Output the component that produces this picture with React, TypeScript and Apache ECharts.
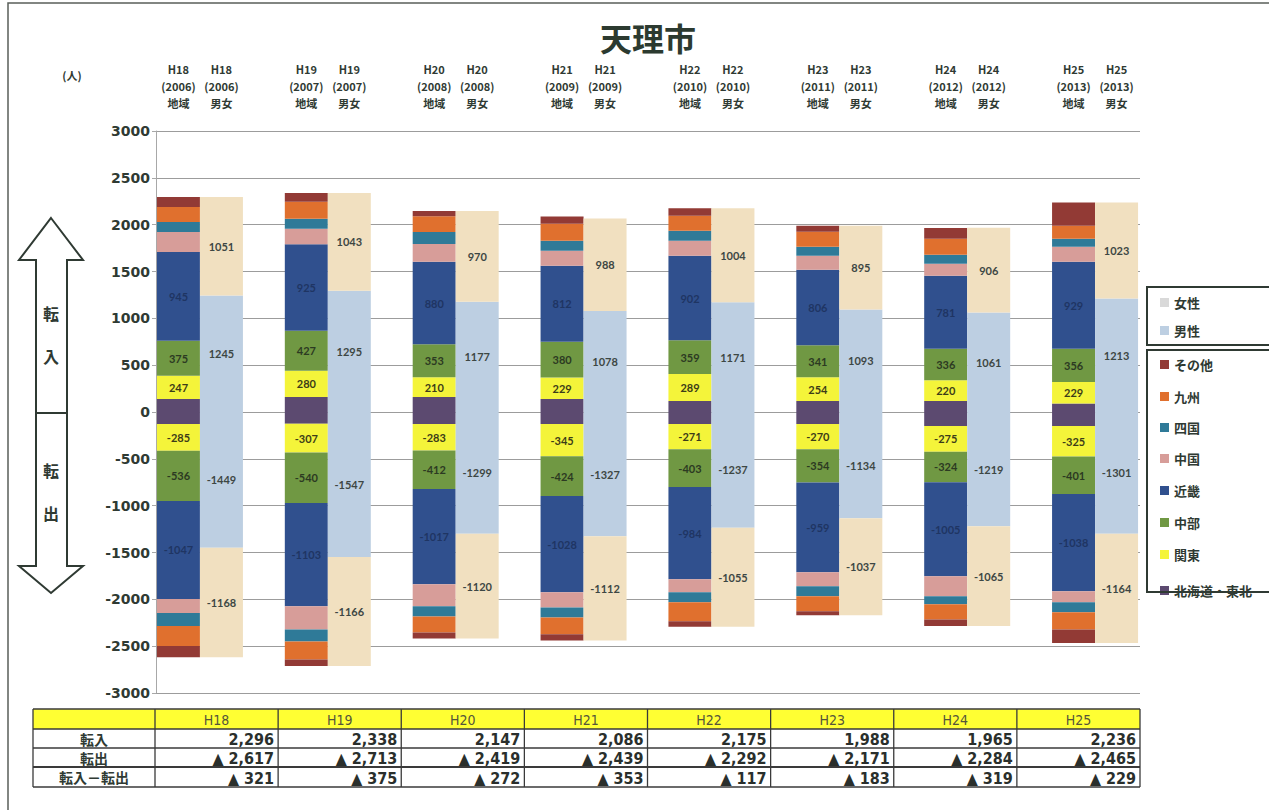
import React, { useEffect, useRef } from 'react';
import * as echarts from 'echarts';

// ---------- data ----------
const years = ['H18', 'H19', 'H20', 'H21', 'H22', 'H23', 'H24', 'H25'];
const westernYears = ['2006', '2007', '2008', '2009', '2010', '2011', '2012', '2013'];
const yTicks = [-3000, 3000, 500];

const totalIn = [2296, 2338, 2147, 2086, 2175, 1988, 1965, 2236];
const totalOut = [2617, 2713, 2419, 2439, 2292, 2171, 2284, 2465];

// regional (転入 positive, 転出 negative)
const htIn = [140, 160, 160, 140, 118, 118, 118, 90];
const kantoIn = [247, 280, 210, 229, 289, 254, 220, 229];
const chubuIn = [375, 427, 353, 380, 359, 341, 336, 356];
const kinkiIn = [945, 925, 880, 812, 902, 806, 781, 929];
const chugokuIn = [214, 165, 190, 161, 161, 149, 128, 161];
const shikokuIn = [107, 107, 128, 107, 107, 97, 96, 85];
const kyushuIn = [161, 180, 170, 182, 160, 160, 171, 139];
const otherIn = [107, 94, 56, 75, 79, 63, 115, 247];

const htOut = [-128, -125, -128, -128, -128, -128, -150, -150];
const kantoOut = [-285, -307, -283, -345, -271, -270, -275, -325];
const chubuOut = [-536, -540, -412, -424, -403, -354, -324, -401];
const kinkiOut = [-1047, -1103, -1017, -1028, -984, -959, -1005, -1038];
const chugokuOut = [-150, -246, -235, -161, -139, -150, -214, -118];
const shikokuOut = [-139, -128, -107, -107, -107, -107, -85, -107];
const kyushuOut = [-214, -193, -171, -181, -203, -160, -161, -182];
const otherOut = [-118, -71, -66, -65, -57, -43, -70, -144];

// gender
const maleIn = [1245, 1295, 1177, 1078, 1171, 1093, 1061, 1213];
const femaleIn = [1051, 1043, 970, 988, 1004, 895, 906, 1023];
const maleOut = [-1449, -1547, -1299, -1327, -1237, -1134, -1219, -1301];
const femaleOut = [-1168, -1166, -1120, -1112, -1055, -1037, -1065, -1164];

// ---------- styles ----------
const INK = '#2f3a33';
const C = {
  ht: '#5c4a70',
  kanto: '#f4f43a',
  chubu: '#709843',
  kinki: '#30508e',
  chugoku: '#d79d99',
  shikoku: '#2f7a98',
  kyushu: '#e0702e',
  other: '#923a35',
  male: '#bdcfe2',
  female: '#f1e0c0',
};
const CJK = "'Noto Sans CJK JP', sans-serif";
const NUM = "'DejaVu Sans', 'Noto Sans CJK JP', sans-serif";
const NARROW = "'Liberation Sans Narrow', 'DejaVu Sans Condensed', sans-serif";

type Region = { name: string; inV: number[]; outV: number[]; color: string; labelColor?: string };
const regions: Region[] = [
  { name: '北海道・東北', inV: htIn, outV: htOut, color: C.ht },
  { name: '関東', inV: kantoIn, outV: kantoOut, color: C.kanto, labelColor: '#3c3c18' },
  { name: '中部', inV: chubuIn, outV: chubuOut, color: C.chubu, labelColor: '#2c3a22' },
  { name: '近畿', inV: kinkiIn, outV: kinkiOut, color: C.kinki, labelColor: '#1f3563' },
  { name: '中国', inV: chugokuIn, outV: chugokuOut, color: C.chugoku },
  { name: '四国', inV: shikokuIn, outV: shikokuOut, color: C.shikoku },
  { name: '九州', inV: kyushuIn, outV: kyushuOut, color: C.kyushu },
  { name: 'その他', inV: otherIn, outV: otherOut, color: C.other },
];

const fmt = (n: number) => String(Math.abs(n)).replace(/\B(?=(\d{3})+(?!\d))/g, ',');

function txt(x: number, y: number, text: string, opts: any = {}) {
  const align = opts.align || 'center';
  const v = opts.v || 'middle';
  return {
    type: 'text',
    x,
    y,
    silent: true,
    z: opts.z || 10,
    style: {
      text,
      fill: opts.fill || INK,
      fontSize: opts.size || 12,
      fontWeight: opts.weight || 'bold',
      fontFamily: opts.family || CJK,
      align,
      verticalAlign: v,
      textAlign: align,
      textVerticalAlign: v,
    },
  };
}

function buildGraphic() {
  const g: any[] = [];
  // outer border
  g.push({ type: 'rect', silent: true, shape: { x: 8, y: 3, width: 1400, height: 1000 }, style: { fill: 'none', stroke: '#5a5f5a', lineWidth: 1.5 } });
  // title & unit
  g.push(txt(648, 37, '天理市', { size: 32, fill: '#2c3a30' }));
  g.push(txt(72, 75, '(人)', { size: 11 }));
  // arrow
  g.push({
    type: 'polygon', silent: true,
    shape: { points: [[51, 218], [83, 260], [67, 260], [67, 566], [83, 566], [51, 593], [19, 566], [36, 566], [36, 260], [19, 260]] },
    style: { fill: '#fff', stroke: INK, lineWidth: 2 },
  });
  g.push({ type: 'line', silent: true, shape: { x1: 36, y1: 413, x2: 67, y2: 413 }, style: { stroke: INK, lineWidth: 2 } });
  g.push(txt(51, 313, '転', { size: 16 }));
  g.push(txt(51, 356, '入', { size: 16 }));
  g.push(txt(51, 470, '転', { size: 16 }));
  g.push(txt(51, 513, '出', { size: 16 }));

  // legend boxes
  g.push({ type: 'rect', silent: true, shape: { x: 1147, y: 287, width: 140, height: 58 }, style: { fill: '#fff', stroke: INK, lineWidth: 2 } });
  g.push({ type: 'rect', silent: true, shape: { x: 1147, y: 350, width: 140, height: 242 }, style: { fill: '#fff', stroke: INK, lineWidth: 2 } });
  const lg1 = [
    { name: '女性', color: '#d9d9d9', y: 302 },
    { name: '男性', color: C.male, y: 330 },
  ];
  lg1.forEach((it) => {
    g.push({ type: 'rect', silent: true, z: 11, shape: { x: 1160, y: it.y - 4, width: 9, height: 9 }, style: { fill: it.color } });
    g.push(txt(1174, it.y, it.name, { size: 13, align: 'left', z: 11 }));
  });
  const lgYs = [364, 396, 427, 458, 490, 522, 554, 590];
  const rev = regions.slice().reverse();
  rev.forEach((r, i) => {
    const y = lgYs[i];
    g.push({ type: 'rect', silent: true, z: 11, shape: { x: 1160, y: y - 4, width: 9, height: 9 }, style: { fill: r.color } });
    g.push(txt(1174, y, r.name, { size: 13, align: 'left', z: 11 }));
  });
  g.push({ type: 'line', silent: true, z: 12, shape: { x1: 1147, y1: 592, x2: 1290, y2: 592 }, style: { stroke: INK, lineWidth: 2 } });

  // table
  const tL = 33, tC = 155, tR = 1140;
  const colW = (tR - tC) / years.length;
  const rowY = [709, 729, 748, 767, 787];
  g.push({ type: 'rect', silent: true, shape: { x: tL, y: rowY[0], width: tR - tL, height: rowY[1] - rowY[0] }, style: { fill: '#ffff33' } });
  rowY.forEach((y, i) => {
    g.push({ type: 'line', silent: true, z: 11, shape: { x1: tL, y1: y, x2: tR, y2: y }, style: { stroke: '#3a3a3a', lineWidth: i === 3 ? 2.2 : 1.3 } });
  });
  const vx = [tL, tC];
  for (let k = 1; k <= years.length; k++) vx.push(tC + k * colW);
  vx.forEach((x) => {
    g.push({ type: 'line', silent: true, z: 11, shape: { x1: x, y1: rowY[0], x2: x, y2: rowY[4] }, style: { stroke: '#3a3a3a', lineWidth: 1.3 } });
  });
  const rowLabels = ['転入', '転出', '転入－転出'];
  rowLabels.forEach((t, i) => {
    g.push(txt((tL + tC) / 2, (rowY[i + 1] + rowY[i + 2]) / 2, t, { size: 14 }));
  });
  years.forEach((yr, k) => {
    const cx = tC + (k + 0.5) * colW;
    const rx = tC + (k + 1) * colW - 4;
    g.push(txt(cx, (rowY[0] + rowY[1]) / 2 + 1, yr, { size: 14, family: NARROW, fill: '#55553a', weight: 'normal' }));
    const net = totalIn[k] - totalOut[k];
    const vals = [fmt(totalIn[k]), '▲ ' + fmt(totalOut[k]), (net < 0 ? '▲ ' : '') + fmt(net)];
    vals.forEach((v, i) => {
      g.push(txt(rx, (rowY[i + 1] + rowY[i + 2]) / 2 + 1, v, { size: 16, family: NARROW, align: 'right', fill: '#2a2f2c', weight: 'bold' }));
    });
  });
  return g;
}

function buildOption() {
  const series: any[] = [];
  const lbl = (color?: string) =>
    color
      ? { show: true, position: 'inside', color, fontSize: 11, fontWeight: 'bold', fontFamily: "'Lato', sans-serif" }
      : { show: false };
  regions.forEach((r) => {
    series.push({
      name: r.name + '転入', type: 'bar', stack: 'reg', xAxisIndex: 1, yAxisIndex: 1,
      barWidth: 43, barGap: '0%', data: r.inV, itemStyle: { color: r.color }, label: lbl(r.labelColor),
    });
    series.push({
      name: r.name + '転出', type: 'bar', stack: 'reg', xAxisIndex: 1, yAxisIndex: 1,
      barWidth: 43, barGap: '0%', data: r.outV, itemStyle: { color: r.color }, label: lbl(r.labelColor),
    });
  });
  const gender = [
    { name: '男性転入', data: maleIn, color: C.male },
    { name: '女性転入', data: femaleIn, color: C.female },
    { name: '男性転出', data: maleOut, color: C.male },
    { name: '女性転出', data: femaleOut, color: C.female },
  ];
  gender.forEach((s) => {
    series.push({
      name: s.name, type: 'bar', stack: 'gen', xAxisIndex: 1, yAxisIndex: 1,
      barWidth: 43, barGap: '0%', data: s.data, itemStyle: { color: s.color }, label: lbl('#3d4744'),
    });
  });

  const richTok = { width: 43, align: 'center', fontSize: 11, fontWeight: 'bold', color: INK, fontFamily: CJK, lineHeight: 17 };

  return {
    animation: false,
    backgroundColor: '#ffffff',
    grid: [
      { left: 156, right: 129, top: 131, bottom: 117 },
      { left: 136, right: 110, top: 131, bottom: 117 },
    ],
    xAxis: [
      { type: 'value', gridIndex: 0, min: 0, max: 1, show: false },
      {
        type: 'category', gridIndex: 1, data: years, position: 'top',
        axisLine: { show: false }, axisTick: { show: false }, splitLine: { show: false },
        axisLabel: {
          interval: 0, margin: 20,
          formatter: (v: string, i: number) =>
            `{a|${v}}{b|${v}}\n{a|(${westernYears[i]})}{b|(${westernYears[i]})}\n{a|地域}{b|男女}`,
          rich: { a: richTok, b: richTok },
        },
      },
    ],
    yAxis: [
      {
        type: 'value', gridIndex: 0, min: yTicks[0], max: yTicks[1], interval: yTicks[2],
        axisLine: { show: true, lineStyle: { color: '#a8a8a8' } },
        axisTick: { show: true, length: 4, lineStyle: { color: '#a8a8a8' } },
        splitLine: { show: true, lineStyle: { color: '#9c9c9c', width: 1.2 } },
        axisLabel: { color: INK, fontSize: 14, fontWeight: 'bold', fontFamily: NUM, margin: 6, formatter: (v: number) => String(v) },
      },
      { type: 'value', gridIndex: 1, min: yTicks[0], max: yTicks[1], interval: yTicks[2], show: false, splitLine: { show: false } },
    ],
    series,
    graphic: { elements: buildGraphic() },
  };
}

export default function App() {
  const ref = useRef<HTMLDivElement>(null);
  useEffect(() => {
    if (!ref.current) return;
    const chart = echarts.init(ref.current, null, { renderer: 'svg' });
    chart.setOption(buildOption() as any);
    return () => chart.dispose();
  }, []);
  return (
    <div style={{ position: 'fixed', left: 0, top: 0, width: 1269, height: 810, background: '#fff' }}>
      <div ref={ref} style={{ width: 1269, height: 810 }} />
    </div>
  );
}
